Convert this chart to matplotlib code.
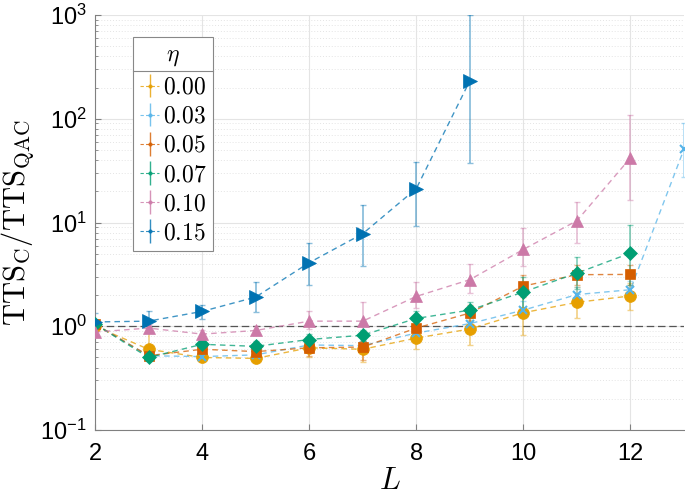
import numpy as np
import matplotlib
matplotlib.use("Agg")
import matplotlib.pyplot as plt
from matplotlib.lines import Line2D

plt.rcParams['font.family'] = ['Liberation Sans', 'DejaVu Sans']
plt.rcParams['mathtext.fontset'] = 'cm'

# ---------------- data ----------------
L_short = [2, 3, 4, 5, 6, 7, 8, 9, 10, 11, 12]
L_long = [2, 3, 4, 5, 6, 7, 8, 9, 10, 11, 12, 13]
L_blue = [2, 3, 4, 5, 6, 7, 8, 9]

eta_labels = ["0.00", "0.03", "0.05", "0.07", "0.10", "0.15"]

y000 = [1.00, 0.60, 0.50, 0.49, 0.62, 0.60, 0.77, 0.94, 1.35, 1.70, 1.96]
lo000 = [0.93, 0.52, 0.45, 0.44, 0.50, 0.45, 0.60, 0.66, 0.82, 1.19, 1.42]
hi000 = [1.08, 0.98, 0.56, 0.55, 0.75, 0.72, 0.95, 1.15, 2.00, 2.40, 2.60]

y003 = [1.05, 0.52, 0.51, 0.53, 0.66, 0.65, 0.86, 1.06, 1.43, 2.02, 2.25, 51.0]
lo003 = [0.98, 0.48, 0.46, 0.45, 0.58, 0.58, 0.75, 0.90, 1.20, 1.70, 1.90, 27.6]
hi003 = [1.12, 0.57, 0.57, 0.60, 0.75, 0.73, 1.00, 1.25, 1.75, 2.40, 2.70, 90.0]

y005 = [1.05, 0.52, 0.60, 0.57, 0.62, 0.63, 0.96, 1.34, 2.44, 3.14, 3.16]
lo005 = [1.00, 0.48, 0.52, 0.50, 0.52, 0.47, 0.80, 1.10, 1.90, 2.50, 2.50]
hi005 = [1.10, 0.58, 0.68, 0.65, 0.72, 0.72, 1.15, 1.60, 3.10, 3.90, 3.90]

y007 = [1.05, 0.50, 0.67, 0.64, 0.745, 0.82, 1.19, 1.43, 2.14, 3.25, 5.07]
lo007 = [1.00, 0.46, 0.60, 0.57, 0.66, 0.72, 1.00, 1.20, 1.50, 2.27, 2.50]
hi007 = [1.10, 0.55, 0.75, 0.72, 0.85, 0.93, 1.40, 1.70, 3.00, 4.70, 9.40]

y010 = [0.88, 0.96, 0.84, 0.91, 1.12, 1.12, 1.94, 2.81, 5.5, 10.4, 42.0]
lo010 = [0.78, 0.88, 0.76, 0.82, 0.95, 0.90, 1.50, 2.10, 3.8, 6.3, 16.3]
hi010 = [1.02, 1.05, 0.92, 1.00, 1.40, 1.70, 2.67, 4.00, 8.8, 15.7, 108.0]

y015 = [1.10, 1.12, 1.39, 1.91, 4.1, 7.8, 21.2, 232.0]
lo015 = [1.00, 1.00, 1.17, 1.36, 2.48, 3.8, 9.2, 37.8]
hi015 = [1.33, 1.39, 1.60, 2.65, 6.3, 14.9, 38.0, 1000.0]

x_ticks = [2, 4, 6, 8, 10, 12]

series = [
    (L_short, y000, lo000, hi000, '#E69F00', 'o', 8.5),
    (L_long, y003, lo003, hi003, '#56B4E9', 'x', 6),
    (L_short, y005, lo005, hi005, '#D55E00', 's', 7.5),
    (L_short, y007, lo007, hi007, '#009E73', 'D', 7.5),
    (L_short, y010, lo010, hi010, '#CC79A7', '^', 9),
    (L_blue, y015, lo015, hi015, '#0072B2', '>', 9.5),
]

fig = plt.figure(figsize=(6.85, 4.96), dpi=100)
ax = fig.add_axes([95/685, 66/496, 589/685, 415/496])

handles = []
for (xs, ys, lo, hi, c, m, ms), lab in zip(series, eta_labels):
    xs = np.array(xs); ys = np.array(ys)
    lo = np.array(lo); hi = np.array(hi)
    yerr = np.vstack([ys - lo, hi - ys])
    ax.errorbar(xs, ys, yerr=yerr, fmt='none', ecolor=c, elinewidth=1.3,
                capsize=2.5, capthick=1.0, alpha=0.45, zorder=2)
    ax.plot(xs, ys, linestyle=(0, (4, 3)), color=c, lw=1.0, alpha=0.75, zorder=3)
    ax.plot(xs, ys, linestyle='none', marker=m, color=c, ms=ms,
            mew=1.5 if m == 'x' else 0.5, zorder=4)
    h = ax.errorbar([], [], yerr=[], fmt='.', color=c, ms=4, elinewidth=1.0,
                    capsize=2, ls=(0, (3, 2)), lw=0.8, alpha=0.8, label=r'$%s$' % lab)
    handles.append(h)

ax.axhline(1.0, color='#555555', lw=0.9, ls=(0, (6, 3)), zorder=1)

ax.set_yscale('log')
ax.set_xlim(2, 13)
ax.set_ylim(0.1, 1000)
ax.set_xticks(x_ticks)
ax.set_yticks([0.1, 1, 10, 100, 1000])

ax.grid(True, which='major', color='#e4e4e4', lw=0.8)
ax.grid(True, which='minor', axis='y', color='#e4e4e4', lw=0.7, ls=(0, (1, 2)))
ax.set_axisbelow(True)
for s in ['top', 'right']:
    ax.spines[s].set_visible(False)
for s in ['left', 'bottom']:
    ax.spines[s].set_color('#808080')
ax.tick_params(which='both', direction='in', color='#808080', labelsize=17)
ax.tick_params(which='minor', length=2)
ax.tick_params(which='major', length=4)
ax.tick_params(axis='x', which='major', pad=9)
ax.tick_params(axis='y', which='major', pad=6)
ax.tick_params(axis='x', which='minor', bottom=False)

ax.set_ylabel(r'$\mathrm{TTS_C/TTS_{QAC}}$', fontsize=22, labelpad=2)
ax.set_xlabel(r'$L$', fontsize=22, labelpad=1)

leg = ax.legend(handles=handles, loc='upper left', bbox_to_anchor=(38/589, 1 - 22/415),
                title=r'$\eta$', title_fontsize=17, fontsize=17, frameon=True,
                fancybox=False, edgecolor='#888888', framealpha=1,
                handlelength=0.8, handletextpad=0.15, borderpad=0.3,
                labelspacing=0.3, borderaxespad=0)
leg.get_frame().set_linewidth(0.8)
leg._legend_box.sep = 6

fig.canvas.draw()
# separator under title
bb = leg.get_frame().get_window_extent()
tb = leg.get_title().get_window_extent()
ysep = tb.y0 - 3
fig.add_artist(Line2D([bb.x0 / fig.bbox.width, bb.x1 / fig.bbox.width],
                      [ysep / fig.bbox.height, ysep / fig.bbox.height],
                      color='#888888', lw=0.8, transform=fig.transFigure))

fig.savefig('out.png', dpi=100)
